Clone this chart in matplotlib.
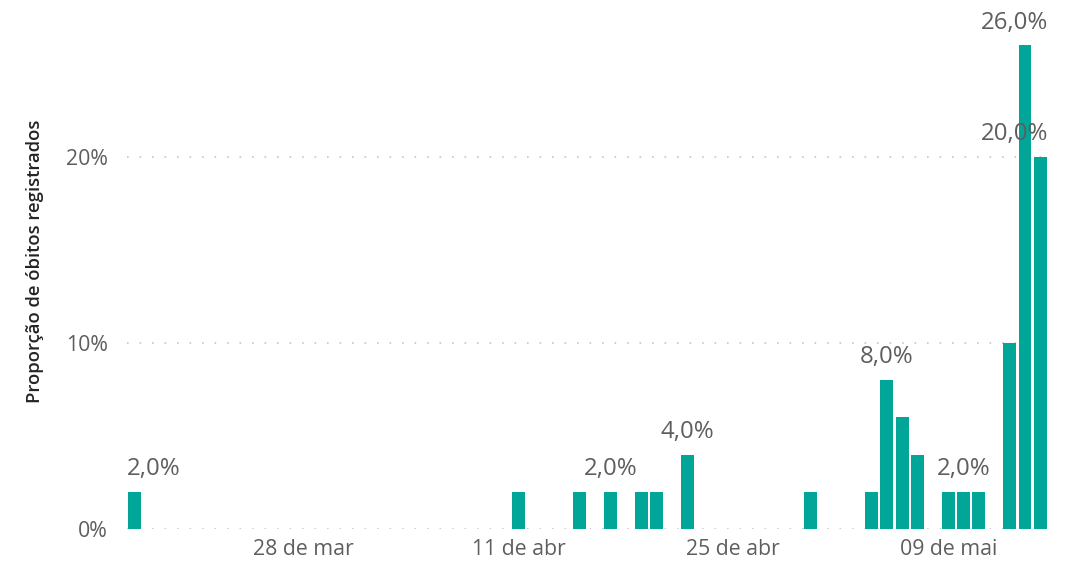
"""
Proporção diária de óbitos registrados — gráfico de barras.
"""

import pandas as pd
import matplotlib.pyplot as plt
import matplotlib.dates as mdates

# dias com registro (2020) e proporção (%)
dates = [
    "2020-03-17", "2020-04-11", "2020-04-15", "2020-04-17", "2020-04-19",
    "2020-04-20", "2020-04-22", "2020-04-30", "2020-05-04", "2020-05-05",
    "2020-05-06", "2020-05-07", "2020-05-09", "2020-05-10", "2020-05-11",
    "2020-05-13", "2020-05-14", "2020-05-15",
]
share = [2, 2, 2, 2, 2, 2, 4, 2, 2, 8, 6, 4, 2, 2, 2, 10, 26, 20]

# barras que recebem rótulo de dados
labelled = ["2020-03-17", "2020-04-17", "2020-04-22", "2020-05-05",
            "2020-05-10", "2020-05-14", "2020-05-15"]

x_ticks = ["2020-03-28", "2020-04-11", "2020-04-25", "2020-05-09"]
x_tick_labels = ["28 de mar", "11 de abr", "25 de abr", "09 de mai"]
y_ticks = [0, 10, 20]
y_tick_labels = ["0%", "10%", "20%"]

BAR = "#01A699"
TXT = "#605E5C"
plt.rcParams["font.family"] = ["Open Sans", "DejaVu Sans"]

df = pd.DataFrame({"date": pd.to_datetime(dates), "share": share})
xnum = mdates.date2num(df["date"])

fig = plt.figure(figsize=(10.77, 5.64), dpi=100)
ax = fig.add_axes([127 / 1077, 35 / 564, (1048 - 127) / 1077, (529 - 8) / 564])

ax.bar(xnum, df["share"], width=0.84, color=BAR, zorder=2)

left, right = xnum[0] - 0.5, xnum[-1] + 0.5
ax.set_xlim(left, right)
ax.set_ylim(0, 28)

for y in y_ticks:
    ax.axhline(y, color="#C8C6C4", lw=1.2, ls=(0, (1, 6.5)), zorder=1)

ax.set_yticks(y_ticks)
ax.set_yticklabels(y_tick_labels)
ax.set_xticks(mdates.date2num(pd.to_datetime(x_ticks)))
ax.set_xticklabels(x_tick_labels)
ax.tick_params(axis="both", length=0, labelsize=15.3, colors=TXT)
ax.tick_params(axis="x", pad=7)
ax.tick_params(axis="y", pad=14)
for s in ax.spines.values():
    s.set_visible(False)

ax.set_ylabel("Proporção de óbitos registrados", fontsize=13.3, color="#252423",
              fontweight="semibold", va="center")
ax.yaxis.set_label_coords(-0.1, 0.514)

# rótulos de dados, mantidos dentro da área do gráfico
fig.canvas.draw()
renderer = fig.canvas.get_renderer()
inv = ax.transData.inverted()
lab_set = set(pd.to_datetime(labelled))
for d, xv, v in zip(df["date"], xnum, df["share"]):
    if d not in lab_set:
        continue
    t = ax.annotate(f"{v:.1f}%".replace(".", ","), (xv, v), xytext=(0, 12),
                    textcoords="offset points", ha="center", va="baseline",
                    fontsize=17.3, color=TXT, zorder=3)
    bb = t.get_window_extent(renderer)
    x0, _ = inv.transform((bb.x0, 0))
    x1, _ = inv.transform((bb.x1, 0))
    if x0 < left:
        t.set_ha("left")
        t.xy = (left, v)
    elif x1 > right:
        t.set_ha("right")
        t.xy = (right, v)

fig.savefig("out.png", dpi=100)
